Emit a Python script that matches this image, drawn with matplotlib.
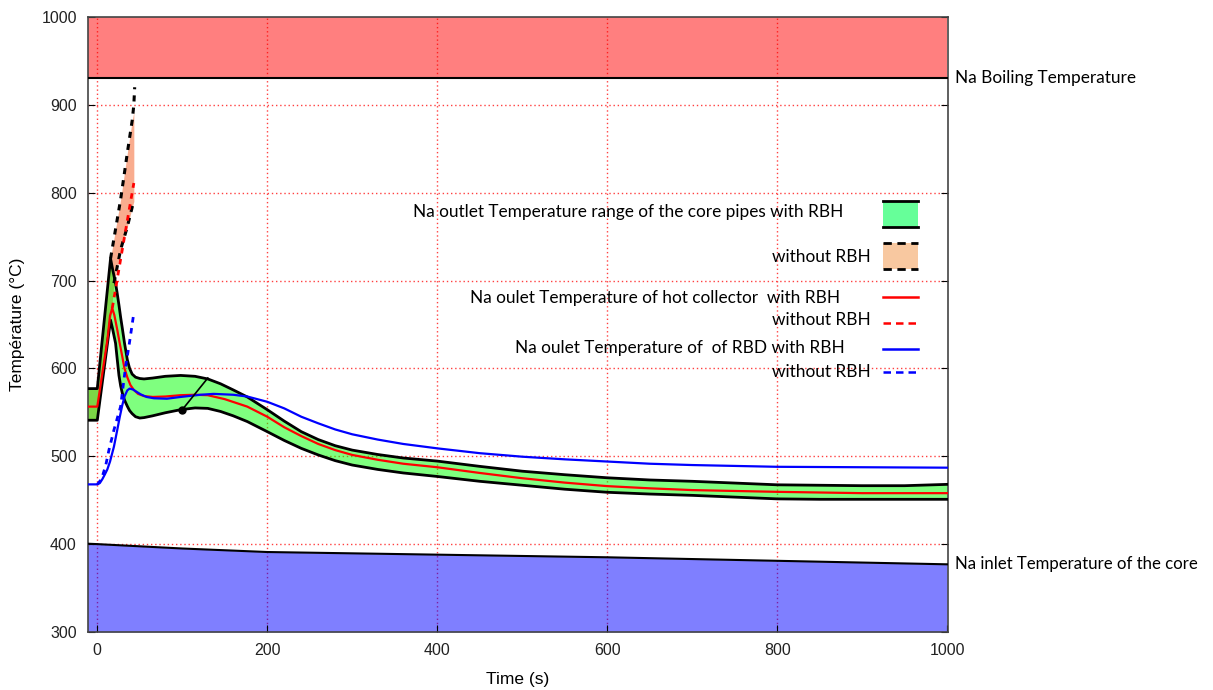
import matplotlib.pyplot as plt
from matplotlib.patches import Rectangle
from matplotlib.lines import Line2D

# limits of the sodium
t_limits = [-12, 0, 100, 200, 400, 600, 800, 1000]
boiling = [930, 930, 930, 930, 930, 930, 930, 930]
inlet = [400.5, 400, 395, 391, 388, 385, 381, 377]

# Na outlet temperature range of the core pipes, with RBH
t_band = [-12, 0, 15.6, 18, 21.5, 23.5, 25.5, 27.5, 29.4, 32, 35.3, 38, 41, 45, 50, 55,
          65, 80, 98, 115, 130, 145, 160, 176.5, 200, 220, 240, 260, 280, 300, 330, 360,
          400, 450, 500, 550, 600, 650, 700, 750, 800, 850, 900, 950, 1000]
band_hi = [577, 577, 725, 713, 697, 685, 672, 658, 646, 629, 610, 600, 593.5, 590, 588.5, 588,
           589, 591, 592, 591, 588, 582.5, 575.5, 567.5, 553, 540, 528, 519, 512, 507, 502, 498,
           494.5, 488.5, 483, 479, 475.5, 473, 471.5, 469.5, 467.5, 467, 466.5, 466.5, 468]
band_lo = [541, 541, 655, 645, 628.6, 610, 592, 580, 572, 564, 557, 552, 548.5, 545, 543.5, 544,
           546, 549.5, 553, 555, 554.5, 551, 546, 539.5, 528, 518, 509, 501.5, 495, 490, 485, 481,
           477, 471.5, 467, 462.5, 459, 457, 455.5, 453.5, 451.5, 451, 451, 451, 451]

# same range without RBH (stops at ~43 s)
t_wo = [-12, 0, 15.6, 19.6, 27.4, 35.3, 41.2, 43]
wo_hi = [577, 577, 725, 748, 792, 845, 883, 892]
wo_lo = [541, 541, 655, 697, 735, 761, 784, 790]
t_wo_top = [15.6, 27.4, 35.3, 41.2, 43, 44]
wo_top = [725, 792, 845, 883, 900, 920]

# hot collector
t_hot = [-12, 0, 12, 15, 17.6, 20, 23.5, 26.5, 29.4, 32, 35.3, 39, 43, 48, 55, 65, 80, 98,
         115, 130, 150, 176.5, 200, 220, 240, 260, 280, 300, 330, 360, 400, 450, 500, 550,
         600, 650, 700, 750, 800, 900, 1000]
hot = [556.5, 556.5, 633, 660, 668.5, 661, 644, 628, 613.5, 600, 590, 581, 575.5, 571, 568.5,
       567.5, 568, 569.5, 570, 569.5, 565, 556.5, 545, 533, 523, 514, 507, 501.5, 496, 491.5,
       487.5, 481, 475, 470, 466, 463.5, 461.5, 460.5, 459.5, 458, 458]
t_hot_wo = [17.6, 20, 27.4, 35.3, 43]
hot_wo = [668.5, 682, 724, 768, 811]

# RBD
t_rbd = [-12, 0, 3, 6, 9, 11.8, 15, 19.6, 23.5, 26.5, 29.4, 32, 35.3, 38, 42, 46, 51, 58,
         66.6, 82, 98, 121.5, 137, 160, 176.5, 200, 220, 240, 260, 280, 300, 330, 360, 400,
         450, 500, 550, 600, 650, 700, 750, 800, 900, 1000]
rbd = [468, 468, 469.5, 474, 479.5, 485, 494, 511, 530, 545, 558, 568, 575, 577, 576, 573.5,
       570.5, 567.5, 566, 565.5, 567.5, 570, 571, 570, 568, 562, 554.5, 545, 537.5, 530.5,
       525, 519, 514, 509, 503.5, 499.5, 496.5, 494, 491.5, 490, 489, 488, 487.5, 487]
t_rbd_wo = [0, 5, 10, 13.7, 19.6, 27.4, 33.3, 37.2, 43]
rbd_wo = [468, 474, 490, 507, 530, 556.5, 602, 625, 663]

# pointer line drawn on the band
t_pointer = [100, 130]
pointer = [553, 589]

fig = plt.figure(figsize=(12.13, 6.90), dpi=100)
ax = fig.add_axes([0.0725, 0.0841, 0.7090, 0.8913])

ax.set_xlim(-11, 1001)
ax.set_ylim(300, 1000)

# gnuplot style red dotted grid
for xv in [0, 200, 400, 600, 800]:
    ax.axvline(xv, color='#ff4040', lw=1, ls=(0, (1, 2)), zorder=0)
for yv in [400, 500, 600, 700, 800, 900]:
    ax.axhline(yv, color='#ff4040', lw=1, ls=(0, (1, 2)), zorder=0)

# boiling and inlet zones
ax.fill_between(t_limits, boiling, 1000, color='red', alpha=0.5, lw=0, zorder=1)
ax.plot(t_limits, boiling, color='black', lw=1.5, zorder=3)
ax.fill_between(t_limits, 300, inlet, color='blue', alpha=0.5, lw=0, zorder=1)
ax.plot(t_limits, inlet, color='black', lw=1.5, zorder=3)

# bands
ax.fill_between(t_wo, wo_lo, wo_hi, color='#f9ac8e', lw=0, zorder=1)
ax.fill_between(t_band, band_lo, band_hi, color='#00ff00', alpha=0.5, lw=0, zorder=2)
ax.plot(t_band, band_hi, color='black', lw=2, zorder=4)
ax.plot(t_band, band_lo, color='black', lw=2, zorder=4)
ax.plot(t_wo_top, wo_top, color='black', lw=2.2, ls=(0, (2, 2)), zorder=4)
ax.plot(t_wo[3:], wo_lo[3:], color='black', lw=2.2, ls=(0, (2, 2)), zorder=4)

# lines
ax.plot(t_hot, hot, color='red', lw=1.6, zorder=5)
ax.plot(t_hot_wo, hot_wo, color='red', lw=2, ls=(0, (2, 2)), zorder=5)
ax.plot(t_rbd, rbd, color='blue', lw=1.6, zorder=5)
ax.plot(t_rbd_wo, rbd_wo, color='blue', lw=2, ls=(0, (2, 2)), zorder=5)

ax.plot(t_pointer, pointer, color='black', lw=1.2, zorder=6)
ax.plot(t_pointer[:1], pointer[:1], 'o', color='black', ms=5, zorder=6)

# axes style
ax.set_xticks([0, 200, 400, 600, 800, 1000])
ax.set_yticks([300, 400, 500, 600, 700, 800, 900, 1000])
ax.tick_params(direction='in', length=5, right=True, top=False, labelsize=11.5,
               labelcolor='#222222', pad=8)
for lab in ax.get_xticklabels() + ax.get_yticklabels():
    lab.set_family('Liberation Sans')
ax.set_xlabel('Time (s)', family='Liberation Sans', fontsize=12.5, labelpad=10)
ax.set_ylabel('Température (°C)', family='Liberation Sans', fontsize=12.5, labelpad=12)

# right side labels
tfont = dict(family='Lato', fontsize=12.4, color='black')
ax.text(1.008, (930 - 300) / 700, 'Na Boiling Temperature', transform=ax.transAxes,
        ha='left', va='center', **tfont)
ax.text(1.008, (377 - 300) / 700, 'Na inlet Temperature of the core', transform=ax.transAxes,
        ha='left', va='center', family='Lato', fontsize=12.1, color='black')

# hand made legend
rows = [
    ('Na outlet Temperature range of the core pipes with RBH', 0.878, 0.6834),
    ('without RBH', 0.9105, 0.6102),
    ('Na oulet Temperature of hot collector  with RBH', 0.8744, 0.5431),
    ('without RBH', 0.9105, 0.5073),
    ('Na oulet Temperature of  of RBD with RBH', 0.8802, 0.4618),
    ('without RBH', 0.9105, 0.4233),
]
for txt, xr, yr in rows:
    ax.text(xr, yr, txt, transform=ax.transAxes, ha='right', va='center', zorder=7, **tfont)

x0, x1 = 0.9244, 0.9651
ax.add_patch(Rectangle((x0, 0.659), x1 - x0, 0.0423, transform=ax.transAxes,
                       color='#66ff99', lw=0, zorder=7))
ax.add_line(Line2D([x0, x1], [0.659, 0.659], transform=ax.transAxes, color='black', lw=2, zorder=8))
ax.add_line(Line2D([x0, x1], [0.7013, 0.7013], transform=ax.transAxes, color='black', lw=2, zorder=8))
ax.add_patch(Rectangle((x0, 0.5902), x1 - x0, 0.0423, transform=ax.transAxes,
                       color='#f8c8a0', lw=0, zorder=7))
ax.add_line(Line2D([x0, x1], [0.5902, 0.5902], transform=ax.transAxes, color='black', lw=2,
                   ls=(0, (3, 2)), zorder=8))
ax.add_line(Line2D([x0, x1], [0.6325, 0.6325], transform=ax.transAxes, color='black', lw=2,
                   ls=(0, (3, 2)), zorder=8))
ax.add_line(Line2D([x0, x1], [0.5442, 0.5442], transform=ax.transAxes, color='red', lw=1.8, zorder=8))
ax.add_line(Line2D([x0, x1], [0.5024, 0.5024], transform=ax.transAxes, color='red', lw=1.8,
                   ls=(0, (3, 2)), zorder=8))
ax.add_line(Line2D([x0, x1], [0.4602, 0.4602], transform=ax.transAxes, color='blue', lw=1.8, zorder=8))
ax.add_line(Line2D([x0, x1], [0.4233, 0.4233], transform=ax.transAxes, color='blue', lw=1.8,
                   ls=(0, (3, 2)), zorder=8))

for s in ax.spines.values():
    s.set_color('#444444')
    s.set_linewidth(1.2)

plt.savefig('out.png', dpi=100)
